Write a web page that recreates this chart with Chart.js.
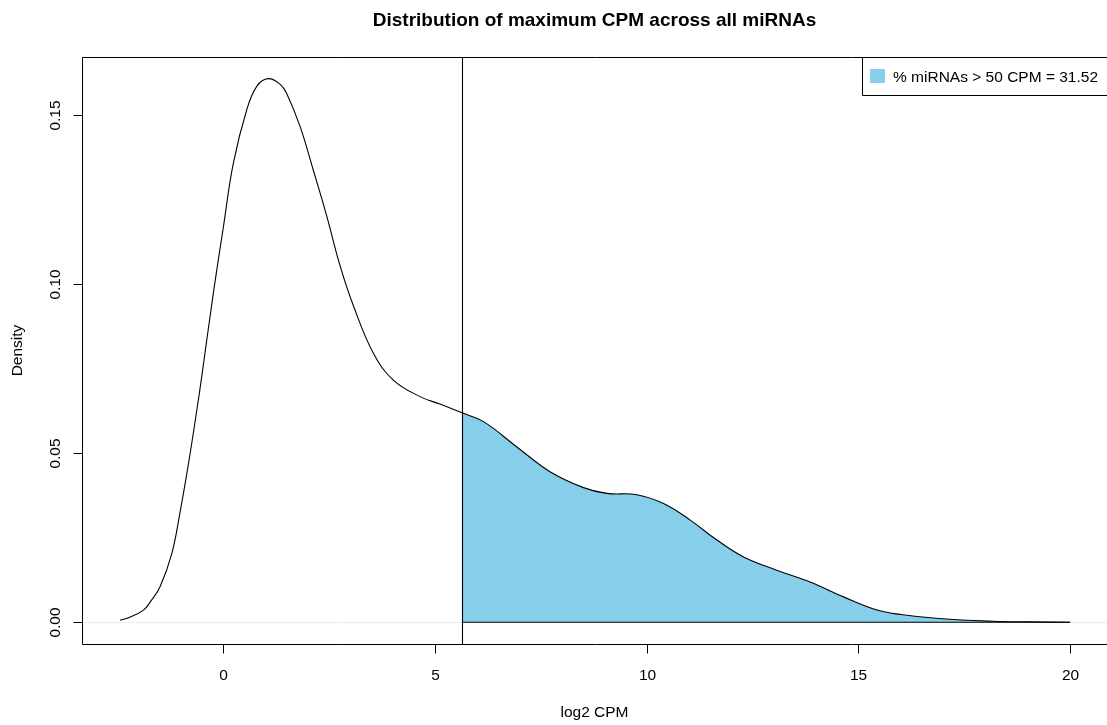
<!DOCTYPE html>
<html>
<head>
<meta charset="utf-8">
<script src="https://cdn.jsdelivr.net/npm/chart.js@4/dist/chart.umd.min.js"></script>
<style>
  html, body { margin: 0; padding: 0; background: #fff; }
  canvas { display: block; }
</style>
</head>
<body>
<canvas id="densityChart" width="1107" height="725"></canvas>
<script>
// density estimate (x = log2 CPM, y = density)
const logCPM = [-2.43, -2.2, -1.88, -1.7, -1.49, -1.21, -1.02, -0.82, -0.62, -0.5, -0.23, 0.01, 0.24, 0.56, 0.8, 1.07, 1.35,
  1.5, 1.82, 2.13, 2.45, 2.76, 3.08, 3.55, 4.02, 4.65, 5.12, 5.64, 6.15, 6.93, 7.72, 8.51, 9.06, 9.77, 10.4,
  11.03, 11.66, 12.29, 13.07, 13.86, 14.65, 15.44, 16.0, 16.9, 18.18, 19.1, 20.0]
const density = [0.0006, 0.0015, 0.0036, 0.0063, 0.0104, 0.0203, 0.0322, 0.0466, 0.0626, 0.0729, 0.0972, 0.117, 0.1355, 0.1515, 0.1585, 0.1607, 0.159,
  0.1564, 0.1465, 0.1337, 0.12, 0.1055, 0.0935, 0.0795, 0.0716, 0.0667, 0.0645, 0.0619, 0.0593, 0.0519, 0.0445, 0.0398, 0.0381, 0.0377, 0.0351,
  0.0302, 0.0243, 0.0193, 0.0154, 0.0119, 0.0075, 0.0036, 0.0023, 0.0011, 0.0003, 0.0001, 0.0]

const cutoff = 5.64 // log2(50)
const xTicks = [0, 5, 10, 15, 20]
const yTicks = [0, 0.05, 0.1, 0.15]
const yTickLabels = ['0.00', '0.05', '0.10', '0.15']
const title = 'Distribution of maximum CPM across all miRNAs'
const xTitle = 'log2 CPM'
const yTitle = 'Density'
const legendText = '% miRNAs > 50 CPM = 31.52'

const FONT = '"Liberation Sans", Arial, Helvetica, sans-serif'
const SKY = '#87CEEB'

const points = logCPM.map((x, i) => ({ x, y: density[i] }))
const shaded = points.filter((p) => p.x >= cutoff)

// R base-graphics look: box, outward ticks, rotated y labels, legend
const rBase = {
  id: 'rBase',
  beforeDatasetsDraw(chart) {
    const { ctx, chartArea: a, scales } = chart
    const y0 = Math.round(scales.y.getPixelForValue(0)) + 0.5
    ctx.save()
    ctx.strokeStyle = '#ececec'
    ctx.lineWidth = 1
    ctx.beginPath()
    ctx.moveTo(a.left, y0)
    ctx.lineTo(a.right, y0)
    ctx.stroke()
    ctx.restore()
  },
  afterDatasetsDraw(chart) {
    const { ctx, chartArea: a, scales } = chart
    const x = scales.x
    const y = scales.y
    ctx.save()
    ctx.strokeStyle = '#000'
    ctx.lineWidth = 1.1
    // polygon baseline
    const yz = y.getPixelForValue(0)
    ctx.beginPath()
    ctx.moveTo(x.getPixelForValue(shaded[0].x), yz)
    ctx.lineTo(x.getPixelForValue(shaded[shaded.length - 1].x), yz)
    ctx.stroke()
    // abline at cutoff
    const xc = Math.round(x.getPixelForValue(cutoff)) + 0.5
    ctx.beginPath()
    ctx.moveTo(xc, a.top)
    ctx.lineTo(xc, a.bottom)
    ctx.stroke()
    ctx.restore()
  },
  afterDraw(chart) {
    const { ctx, chartArea: a, scales } = chart
    const x = scales.x
    const y = scales.y
    const L = Math.round(a.left) + 0.5
    const T = Math.round(a.top) + 0.5
    const B = Math.round(a.bottom) + 0.5
    ctx.save()
    ctx.strokeStyle = '#000'
    ctx.fillStyle = '#000'
    ctx.lineWidth = 1

    // box (right side falls outside the canvas)
    ctx.beginPath()
    ctx.moveTo(a.right + 2, T)
    ctx.lineTo(L, T)
    ctx.lineTo(L, B)
    ctx.lineTo(a.right + 2, B)
    ctx.stroke()

    // x axis ticks + labels
    ctx.font = '15.5px ' + FONT
    ctx.textAlign = 'center'
    ctx.textBaseline = 'alphabetic'
    xTicks.forEach((v) => {
      const px = Math.round(x.getPixelForValue(v)) + 0.5
      ctx.beginPath()
      ctx.moveTo(px, B)
      ctx.lineTo(px, B + 9)
      ctx.stroke()
      ctx.fillText(String(v), px, 680)
    })

    // y axis ticks + rotated labels
    yTicks.forEach((v, i) => {
      const py = Math.round(y.getPixelForValue(v)) + 0.5
      ctx.beginPath()
      ctx.moveTo(L, py)
      ctx.lineTo(L - 9, py)
      ctx.stroke()
      ctx.save()
      ctx.translate(60, py)
      ctx.rotate(-Math.PI / 2)
      ctx.fillText(yTickLabels[i], 0, 0)
      ctx.restore()
    })

    // axis titles
    const cx = (x.getPixelForValue(x.min) + x.getPixelForValue(x.max)) / 2
    ctx.fillText(xTitle, cx, 717)
    ctx.save()
    ctx.translate(22, (a.top + a.bottom) / 2)
    ctx.rotate(-Math.PI / 2)
    ctx.fillText(yTitle, 0, 0)
    ctx.restore()

    // main title
    ctx.font = 'bold 19px ' + FONT
    ctx.fillText(title, cx, 26)

    // legend (topright)
    const lx = 862.5
    const lb = 95.5
    ctx.beginPath()
    ctx.moveTo(lx, T)
    ctx.lineTo(lx, lb)
    ctx.lineTo(a.right + 2, lb)
    ctx.stroke()
    ctx.fillStyle = SKY
    ctx.fillRect(870, 69, 15, 14)
    ctx.fillStyle = '#000'
    ctx.font = '15.5px ' + FONT
    ctx.textAlign = 'left'
    ctx.fillText(legendText, 893, 82)

    ctx.restore()
  },
}

new Chart(document.getElementById('densityChart').getContext('2d'), {
  type: 'line',
  data: {
    datasets: [
      {
        label: 'density',
        data: points,
        borderColor: '#000',
        borderWidth: 1.1,
        pointRadius: 0,
        fill: false,
        tension: 0.4,
        order: 1,
      },
      {
        label: 'shaded',
        data: shaded,
        borderColor: 'rgba(0,0,0,0)',
        borderWidth: 1,
        backgroundColor: SKY,
        pointRadius: 0,
        fill: 'origin',
        tension: 0.4,
        order: 2,
      },
    ],
  },
  options: {
    responsive: false,
    animation: false,
    devicePixelRatio: 1,
    parsing: false,
    layout: { padding: { left: 82, top: 57, right: 0, bottom: 81 } },
    scales: {
      x: { type: 'linear', display: false, min: -3.33, max: 20.87 },
      y: { type: 'linear', display: false, min: -0.00643, max: 0.1671 },
    },
    plugins: {
      legend: { display: false },
      tooltip: { enabled: false },
      title: { display: false },
    },
  },
  plugins: [rBase],
})
</script>
</body>
</html>
